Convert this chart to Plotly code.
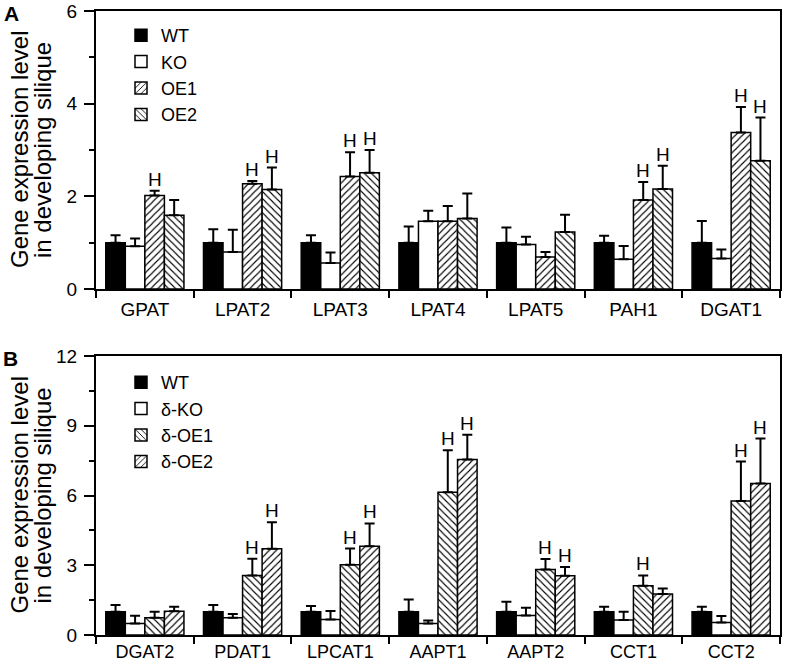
import plotly.graph_objects as go

FONT = "Liberation Sans, Arial, sans-serif"

# ---------------- Panel A data ----------------
cats_a = ["GPAT", "LPAT2", "LPAT3", "LPAT4", "LPAT5", "PAH1", "DGAT1"]
names_a = ["WT", "KO", "OE1", "OE2"]
wt_a = [1.00, 1.00, 1.00, 1.00, 1.00, 1.00, 1.00]
wt_a_err = [0.16, 0.29, 0.16, 0.35, 0.33, 0.15, 0.47]
ko_a = [0.92, 0.80, 0.56, 1.46, 0.96, 0.64, 0.66]
ko_a_err = [0.17, 0.48, 0.23, 0.23, 0.17, 0.29, 0.19]
oe1_a = [2.02, 2.27, 2.43, 1.46, 0.69, 1.92, 3.38]
oe1_a_err = [0.10, 0.06, 0.52, 0.33, 0.11, 0.39, 0.55]
oe2_a = [1.59, 2.15, 2.51, 1.52, 1.23, 2.16, 2.77]
oe2_a_err = [0.33, 0.47, 0.49, 0.54, 0.37, 0.50, 0.93]
sig_a = [
    [0, 0, 0, 0, 0, 0, 0],
    [0, 0, 0, 0, 0, 0, 0],
    [1, 1, 1, 0, 0, 1, 1],
    [0, 1, 1, 0, 0, 1, 1],
]
ticks_a = [0, 2, 4, 6]

# ---------------- Panel B data ----------------
cats_b = ["DGAT2", "PDAT1", "LPCAT1", "AAPT1", "AAPT2", "CCT1", "CCT2"]
names_b = ["WT", "δ-KO", "δ-OE1", "δ-OE2"]
wt_b = [1.00, 1.00, 1.00, 1.00, 1.00, 1.00, 1.00]
wt_b_err = [0.29, 0.29, 0.25, 0.53, 0.43, 0.22, 0.22]
ko_b = [0.50, 0.74, 0.67, 0.50, 0.84, 0.64, 0.54]
ko_b_err = [0.33, 0.16, 0.36, 0.12, 0.33, 0.36, 0.28]
oe1_b = [0.74, 2.56, 3.02, 6.14, 2.82, 2.12, 5.76]
oe1_b_err = [0.26, 0.72, 0.70, 1.81, 0.45, 0.44, 1.70]
oe2_b = [1.02, 3.71, 3.82, 7.55, 2.55, 1.76, 6.52]
oe2_b_err = [0.20, 1.14, 0.98, 1.06, 0.37, 0.24, 1.93]
sig_b = [
    [0, 0, 0, 0, 0, 0, 0],
    [0, 0, 0, 0, 0, 0, 0],
    [0, 1, 1, 1, 1, 1, 1],
    [0, 1, 1, 1, 1, 0, 1],
]
ticks_b = [0, 3, 6, 9, 12]

# styles: (fill colour, pattern shape)
styles_a = [("black", ""), ("white", ""), ("white", "/"), ("white", "\\")]
styles_b = [("black", ""), ("white", ""), ("white", "\\"), ("white", "/")]

BARGAP = 0.2
fig = go.Figure()


def add_panel(cats, names, vals, errs, sigs, styles, xa, ya, legend):
    n = len(names)
    bw = (1 - BARGAP) / n
    for k in range(n):
        fill, shape = styles[k]
        fig.add_trace(go.Bar(
            x=cats, y=vals[k], name=names[k],
            xaxis=xa, yaxis=ya, legend=legend,
            marker=dict(
                color=fill,
                line=dict(color="black", width=1.5),
                pattern=dict(shape=shape, fgcolor="black", bgcolor="white",
                             size=5, solidity=0.22, fillmode="replace") if shape else None,
            ),
            error_y=dict(type="data", symmetric=False, array=errs[k],
                         arrayminus=[0] * len(cats), color="black",
                         thickness=2, width=5),
        ))
        off = -0.5 * (1 - BARGAP) + bw * (k + 0.5)
        for i, s in enumerate(sigs[k]):
            if s:
                fig.add_annotation(
                    x=i + off, y=vals[k][i] + errs[k][i],
                    xref=xa, yref=ya, text="H", showarrow=False,
                    yanchor="bottom", yshift=-1,
                    font=dict(family=FONT, size=19, color="black"),
                )


add_panel(cats_a, names_a, [wt_a, ko_a, oe1_a, oe2_a],
          [wt_a_err, ko_a_err, oe1_a_err, oe2_a_err], sig_a, styles_a,
          "x", "y", "legend")
add_panel(cats_b, names_b, [wt_b, ko_b, oe1_b, oe2_b],
          [wt_b_err, ko_b_err, oe1_b_err, oe2_b_err], sig_b, styles_b,
          "x2", "y2", "legend2")

axis_common = dict(showline=True, linecolor="black", linewidth=2, mirror=True,
                   showgrid=False, zeroline=False, ticks="outside",
                   tickcolor="black", tickwidth=1.5, automargin=False,
                   tickfont=dict(family=FONT, size=19, color="black"))

W, H = 785, 664
ML, MR, MT, MB = 96, 5, 11, 29
pw = W - ML - MR
ph = H - MT - MB
top_b = (H - MB - 356) / ph
bot_a = (H - MB - 289) / ph

legend_style = dict(xanchor="left", yanchor="top", bgcolor="rgba(0,0,0,0)",
                    font=dict(family=FONT, size=18, color="black"),
                    tracegroupgap=0, itemwidth=30)

fig.update_layout(
    width=W, height=H,
    margin=dict(l=ML, r=MR, t=MT, b=MB, autoexpand=False),
    paper_bgcolor="white", plot_bgcolor="white",
    barmode="group", bargap=BARGAP, bargroupgap=0,
    font=dict(family=FONT, color="black"),
    xaxis=dict(**axis_common, domain=[0, 1], anchor="y", type="category",
               tickson="boundaries", ticklen=7, ticklabelstandoff=2,
               range=[-0.5, len(cats_a) - 0.5]),
    yaxis=dict(**axis_common, domain=[bot_a, 1], anchor="x",
               range=[0, 6], tickvals=ticks_a, ticklen=10, ticklabelstandoff=3,
               minor=dict(dtick=1, ticklen=5, ticks="outside", tickcolor="black", tickwidth=1.5)),
    xaxis2=dict(**axis_common, domain=[0, 1], anchor="y2", type="category",
                tickson="boundaries", ticklen=7, ticklabelstandoff=-1,
                range=[-0.5, len(cats_b) - 0.5]),
    yaxis2=dict(**axis_common, domain=[0, top_b], anchor="x2",
                range=[0, 12], tickvals=ticks_b, ticklen=10, ticklabelstandoff=3,
                minor=dict(dtick=1.5, ticklen=5, ticks="outside", tickcolor="black", tickwidth=1.5)),
    legend=dict(x=(121 - ML) / pw, y=(H - MB - 17) / ph, **legend_style),
    legend2=dict(x=(121 - ML) / pw, y=(H - MB - 364) / ph, **legend_style),
)
fig.update_xaxes(selector=dict(anchor="y2"), tickfont=dict(size=18))

# panel letters and y-axis titles (two lines each), positioned in pixels
title_l1 = "Gene expression level"
title_l2 = "in developing silique"


def px_x(v):
    return (v - ML) / pw


def px_y(v):
    return (H - MB - v) / ph


for ymid_px, letter, lx, ly in [((11 + 289) / 2, "A", 11, 14), ((356 + 635) / 2, "B", 10, 358)]:
    fig.add_annotation(x=px_x(lx), y=px_y(ly), xref="paper", yref="paper",
                       text=f"<b>{letter}</b>", showarrow=False,
                       xanchor="center", yanchor="middle",
                       font=dict(family=FONT, size=21, color="black"))
    for cx, txt in [(19, title_l1), (42, title_l2)]:
        fig.add_annotation(x=px_x(cx), y=px_y(ymid_px), xref="paper", yref="paper",
                           text=txt, textangle=-90, showarrow=False,
                           font=dict(family=FONT, size=24, color="black"),
                           xanchor="center", yanchor="middle")

fig.write_html("out.html",
               config={"displayModeBar": False},
               post_script="document.body.style.margin='0';document.body.style.overflow='hidden';")
